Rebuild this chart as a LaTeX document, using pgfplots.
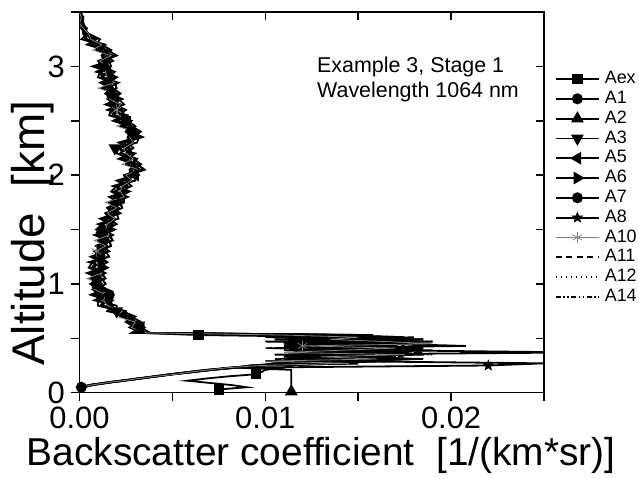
\documentclass[border=0pt]{standalone}
\usepackage{pgfplots}
\pgfplotsset{compat=1.18}
\usepackage{pgfplotstable}
\usepackage{fontspec}
\setmainfont{Liberation Sans}

\pgfdeclareplotmark{fstar}{%
 \pgfpathmoveto{\pgfpointpolar{90}{\pgfplotmarksize}}%
 \pgfpathlineto{\pgfpointpolar{126}{0.42\pgfplotmarksize}}%
 \pgfpathlineto{\pgfpointpolar{162}{\pgfplotmarksize}}%
 \pgfpathlineto{\pgfpointpolar{198}{0.42\pgfplotmarksize}}%
 \pgfpathlineto{\pgfpointpolar{234}{\pgfplotmarksize}}%
 \pgfpathlineto{\pgfpointpolar{270}{0.42\pgfplotmarksize}}%
 \pgfpathlineto{\pgfpointpolar{306}{\pgfplotmarksize}}%
 \pgfpathlineto{\pgfpointpolar{342}{0.42\pgfplotmarksize}}%
 \pgfpathlineto{\pgfpointpolar{18}{\pgfplotmarksize}}%
 \pgfpathlineto{\pgfpointpolar{54}{0.42\pgfplotmarksize}}%
 \pgfpathclose\pgfusepathqfillstroke}

\pgfplotstableread{
alt Aex A1 A2 A3 A5 A6 A7 A8 A10 A11 A12 A14
3.50 0 0 0 0.0001 0 0 0.0001 0 0 0 0 0.0001
3.45 0.0001 0.0002 0 0.0001 0.0002 0.0001 0 0.0002 0.0001 0.0002 0.0001 0
3.40 0.0002 0.0001 0.0002 0 0.0001 0.0002 0.0001 0.0002 0 0.0001 0.0002 0.0001
3.35 0.0003 0.0002 0.0001 0.0002 0.0004 0.0002 0.0001 0.0003 0.0002 0.0002 0.0003 0.0001
3.30 0.0004 0.0002 0.0003 0.0005 0.0003 0.0002 0.0004 0.0003 0.0005 0.0002 0.0003 0.0004
3.25 0.0006 0.0009 0.0004 0.0011 0.0003 0.0008 0.0001 0.0009 0.0006 0.0004 0.0008 0.0003
3.20 0.0011 0.0006 0.0012 0.0009 0.0014 0.0007 0.0011 0.0004 0.0012 0.0009 0.0006 0.0011
3.15 0.0010 0.0014 0.0017 0.0009 0.0012 0.0015 0.0010 0.0014 0.0007 0.0015 0.0012 0.0017
3.10 0.0018 0.0015 0.0012 0.0017 0.0013 0.0020 0.0015 0.0012 0.0017 0.0020 0.0013 0.0015
3.05 0.0010 0.0018 0.0013 0.0011 0.0016 0.0013 0.0016 0.0015 0.0011 0.0010 0.0018 0.0011
3.00 0.0012 0.0010 0.0014 0.0015 0.0007 0.0009 0.0017 0.0012 0.0015 0.0014 0.0010 0.0015
2.95 0.0019 0.0016 0.0012 0.0009 0.0016 0.0014 0.0011 0.0017 0.0014 0.0012 0.0017 0.0011
2.90 0.0015 0.0018 0.0013 0.0020 0.0012 0.0017 0.0010 0.0018 0.0015 0.0013 0.0017 0.0012
2.85 0.0018 0.0013 0.0019 0.0016 0.0021 0.0014 0.0018 0.0011 0.0019 0.0016 0.0013 0.0018
2.80 0.0013 0.0017 0.0020 0.0012 0.0015 0.0018 0.0013 0.0017 0.0010 0.0018 0.0015 0.0020
2.75 0.0020 0.0017 0.0014 0.0019 0.0015 0.0022 0.0017 0.0014 0.0019 0.0022 0.0015 0.0017
2.70 0.0015 0.0023 0.0018 0.0016 0.0021 0.0018 0.0021 0.0020 0.0016 0.0015 0.0023 0.0016
2.65 0.0019 0.0017 0.0021 0.0022 0.0014 0.0016 0.0024 0.0019 0.0022 0.0021 0.0017 0.0022
2.60 0.0025 0.0022 0.0018 0.0015 0.0022 0.0020 0.0017 0.0023 0.0020 0.0018 0.0023 0.0017
2.55 0.0021 0.0024 0.0019 0.0026 0.0018 0.0023 0.0016 0.0024 0.0021 0.0019 0.0023 0.0018
2.50 0.0025 0.0020 0.0026 0.0023 0.0028 0.0021 0.0025 0.0018 0.0026 0.0023 0.0020 0.0025
2.45 0.0023 0.0027 0.0030 0.0022 0.0025 0.0028 0.0023 0.0027 0.0020 0.0028 0.0025 0.0030
2.40 0.0031 0.0028 0.0025 0.0030 0.0026 0.0033 0.0028 0.0025 0.0030 0.0033 0.0026 0.0028
2.35 0.0026 0.0034 0.0029 0.0027 0.0032 0.0029 0.0032 0.0031 0.0027 0.0026 0.0034 0.0027
2.30 0.0026 0.0024 0.0028 0.0029 0.0021 0.0023 0.0031 0.0026 0.0029 0.0028 0.0024 0.0029
2.25 0.0029 0.0026 0.0022 0.0019 0.0026 0.0024 0.0021 0.0027 0.0024 0.0022 0.0027 0.0021
2.20 0.0025 0.0028 0.0023 0.0030 0.0022 0.0027 0.0020 0.0028 0.0025 0.0023 0.0027 0.0022
2.15 0.0028 0.0023 0.0029 0.0026 0.0031 0.0024 0.0028 0.0021 0.0029 0.0026 0.0023 0.0028
2.10 0.0026 0.0030 0.0033 0.0025 0.0028 0.0031 0.0026 0.0030 0.0023 0.0031 0.0028 0.0033
2.05 0.0033 0.0030 0.0027 0.0032 0.0028 0.0035 0.0030 0.0027 0.0032 0.0035 0.0028 0.0030
2.00 0.0024 0.0032 0.0027 0.0025 0.0030 0.0027 0.0030 0.0029 0.0025 0.0024 0.0032 0.0025
1.95 0.0025 0.0023 0.0027 0.0028 0.0020 0.0022 0.0030 0.0025 0.0028 0.0027 0.0023 0.0028
1.90 0.0028 0.0025 0.0021 0.0018 0.0025 0.0023 0.0020 0.0026 0.0023 0.0021 0.0026 0.0020
1.85 0.0022 0.0025 0.0020 0.0027 0.0019 0.0024 0.0017 0.0025 0.0022 0.0020 0.0024 0.0019
1.80 0.0023 0.0018 0.0024 0.0021 0.0026 0.0019 0.0023 0.0016 0.0024 0.0021 0.0018 0.0023
1.75 0.0017 0.0021 0.0024 0.0016 0.0019 0.0022 0.0017 0.0021 0.0014 0.0022 0.0019 0.0024
1.70 0.0021 0.0018 0.0015 0.0020 0.0016 0.0023 0.0018 0.0015 0.0020 0.0023 0.0016 0.0018
1.65 0.0014 0.0022 0.0017 0.0015 0.0020 0.0017 0.0020 0.0019 0.0015 0.0014 0.0022 0.0015
1.60 0.0016 0.0014 0.0018 0.0019 0.0011 0.0013 0.0021 0.0016 0.0019 0.0018 0.0014 0.0019
1.55 0.0020 0.0017 0.0013 0.0010 0.0017 0.0015 0.0012 0.0018 0.0015 0.0013 0.0018 0.0012
1.50 0.0014 0.0017 0.0012 0.0019 0.0011 0.0016 0.0009 0.0017 0.0014 0.0012 0.0016 0.0011
1.45 0.0015 0.0010 0.0016 0.0013 0.0018 0.0011 0.0015 0.0008 0.0016 0.0013 0.0010 0.0015
1.40 0.0011 0.0015 0.0018 0.0010 0.0013 0.0016 0.0011 0.0015 0.0008 0.0016 0.0013 0.0018
1.35 0.0015 0.0012 0.0009 0.0014 0.0010 0.0017 0.0012 0.0009 0.0014 0.0017 0.0010 0.0012
1.30 0.0008 0.0016 0.0011 0.0009 0.0014 0.0011 0.0014 0.0013 0.0009 0.0008 0.0016 0.0009
1.25 0.0011 0.0009 0.0013 0.0014 0.0006 0.0008 0.0016 0.0011 0.0014 0.0013 0.0009 0.0014
1.20 0.0015 0.0012 0.0008 0.0005 0.0012 0.0010 0.0007 0.0013 0.0010 0.0008 0.0013 0.0007
1.15 0.0010 0.0013 0.0008 0.0015 0.0007 0.0012 0.0005 0.0013 0.0010 0.0008 0.0012 0.0007
1.10 0.0011 0.0006 0.0012 0.0009 0.0014 0.0007 0.0011 0.0004 0.0012 0.0009 0.0006 0.0011
1.05 0.0007 0.0011 0.0014 0.0006 0.0009 0.0012 0.0007 0.0011 0.0004 0.0012 0.0009 0.0014
1.00 0.0012 0.0009 0.0006 0.0011 0.0007 0.0014 0.0009 0.0006 0.0011 0.0014 0.0007 0.0009
0.95 0.0007 0.0015 0.0010 0.0008 0.0013 0.0010 0.0013 0.0012 0.0008 0.0007 0.0015 0.0008
0.90 0.0011 0.0009 0.0013 0.0014 0.0006 0.0008 0.0016 0.0011 0.0014 0.0013 0.0009 0.0014
0.85 0.0018 0.0015 0.0011 0.0008 0.0015 0.0013 0.0010 0.0016 0.0013 0.0011 0.0016 0.0010
0.80 0.0015 0.0018 0.0013 0.0020 0.0012 0.0017 0.0010 0.0018 0.0015 0.0013 0.0017 0.0012
0.75 0.0022 0.0017 0.0023 0.0020 0.0025 0.0018 0.0022 0.0015 0.0023 0.0020 0.0017 0.0022
0.70 0.0023 0.0027 0.0030 0.0022 0.0025 0.0028 0.0023 0.0027 0.0020 0.0028 0.0025 0.0030
0.65 0.0031 0.0028 0.0025 0.0030 0.0026 0.0033 0.0028 0.0025 0.0030 0.0033 0.0026 0.0028
0.60 0.0027 0.0035 0.0030 0.0028 0.0033 0.0030 0.0033 0.0032 0.0028 0.0027 0.0035 0.0028
0.55 0.0033 0.0031 0.0035 0.0036 0.0028 0.0030 0.0038 0.0033 0.0036 0.0035 0.0031 0.0036
0.53 0.0064 0.0150 0.0140 0.0155 0.0120 0.0145 0.0130 0.0158 0.0110 0.0135 0.0148 0.0125
0.51 0.0150 0.0110 0.0175 0.0120 0.0160 0.0100 0.0170 0.0125 0.0150 0.0180 0.0115 0.0165
0.49 0.0120 0.0185 0.0130 0.0165 0.0105 0.0175 0.0115 0.0185 0.0135 0.0110 0.0170 0.0140
0.47 0.0175 0.0125 0.0160 0.0100 0.0190 0.0120 0.0180 0.0140 0.0165 0.0150 0.0105 0.0190
0.45 0.0110 0.0165 0.0115 0.0180 0.0135 0.0170 0.0125 0.0110 0.0190 0.0125 0.0180 0.0120
0.43 0.0160 0.0208 0.0150 0.0125 0.0170 0.0110 0.0165 0.0155 0.0120 0.0175 0.0140 0.0160
0.41 0.0130 0.0120 0.0185 0.0160 0.0115 0.0180 0.0105 0.0130 0.0170 0.0100 0.0175 0.0115
0.39 0.0180 0.0160 0.0120 0.0110 0.0165 0.0140 0.0190 0.0175 0.0140 0.0165 0.0120 0.0180
0.37 0.0115 0.0130 0.0175 0.0150 0.0270 0.0115 0.0135 0.0120 0.0110 0.0185 0.0155 0.0130
0.35 0.0165 0.0180 0.0105 0.0185 0.0120 0.0175 0.0160 0.0165 0.0175 0.0120 0.0190 0.0150
0.33 0.0120 0.0115 0.0160 0.0125 0.0170 0.0130 0.0110 0.0150 0.0130 0.0160 0.0110 0.0175
0.31 0.0175 0.0150 0.0130 0.0170 0.0110 0.0185 0.0175 0.0180 0.0160 0.0105 0.0165 0.0120
0.29 0.0140 0.0100 0.0170 0.0115 0.0155 0.0120 0.0125 0.0140 0.0100 0.0150 0.0130 0.0165
0.27 0.0110 0.0135 0.0120 0.0150 0.0105 0.0150 0.0150 0.0250 0.0145 0.0120 0.0105 0.0110
0.25 0.0115 0.0098 0.0092 0.0096 0.0094 0.0099 0.0093 0.0220 0.0097 0.0092 0.0096 0.0094
0.23 0.0110 0.0084 0.0085 0.0080 0.0083 0.0081 0.0084 0.0085 0.0080 0.0083 0.0082 0.0081
0.21 0.0100 0.0071 0.0114 0.0069 0.0072 0.0070 0.0068 0.0071 0.0070 0.0072 0.0069 0.0070
0.19 0.0098 0.0061 0.0114 0.0059 0.0060 0.0062 0.0058 0.0061 0.0060 0.0059 0.0061 0.0060
0.17 0.0095 0.0051 0.0114 0.0049 0.0050 0.0051 0.0049 0.0050 0.0052 0.0050 0.0049 0.0051
0.15 0.0080 0.0041 0.0114 0.0040 0.0042 0.0041 0.0040 0.0042 0.0041 0.0040 0.0042 0.0041
0.13 0.0068 0.0032 0.0114 0.0031 0.0033 0.0032 0.0031 0.0033 0.0032 0.0031 0.0032 0.0033
0.11 0.0058 0.0023 0.0114 0.0022 0.0024 0.0023 0.0022 0.0024 0.0023 0.0022 0.0023 0.0024
0.09 0.0070 0.0014 0.0114 0.0013 0.0015 0.0014 0.0013 0.0015 0.0014 0.0013 0.0014 0.0015
0.07 0.0082 0.0006 0.0114 0.0005 0.0007 0.0006 0.0005 0.0007 0.0006 0.0005 0.0006 0.0007
0.05 0.0090 0.0001 0.0114 0.0001 0.0002 0.0001 0 0.0002 0.0001 0 0.0001 0.0002
0.03 0.0075 0 0.0114 0 0.0001 0 0 0.0001 0 0 0 0.0001
0.01 nan 0 0.0114 0 0 0 0 0 0 0 0 0
}\profiles

\pgfplotsset{
  sbase/.style={black, line width=1.8bp, solid},
  sAex/.style={sbase, mark=square*, mark size=4.2bp, mark options={solid, fill=black}},
  sA1/.style={sbase, mark=*, mark size=4.6bp, mark options={solid, fill=black}},
  sA2/.style={sbase, mark=triangle*, mark size=5.6bp, mark options={solid, fill=black}},
  sA3/.style={sbase, mark=triangle*, mark size=5.6bp, mark options={solid, fill=black, rotate=180}},
  sA5/.style={sbase, mark=triangle*, mark size=5.6bp, mark options={solid, fill=black, rotate=90}},
  sA6/.style={sbase, mark=triangle*, mark size=5.6bp, mark options={solid, fill=black, rotate=270}},
  sA7/.style={sbase, mark=*, mark size=4.6bp, mark options={solid, fill=black}},
  sA8/.style={sbase, mark=fstar, mark size=5.5bp, mark options={solid, fill=black, line width=0.5bp}},
  sA10/.style={gray, line width=0.8bp, solid, mark=asterisk, mark size=5.5bp, mark options={solid, gray, line width=0.7bp}},
  sA11/.style={black, line width=1.6bp, dash pattern=on 6bp off 4.5bp},
  sA12/.style={black, line width=1.6bp, dash pattern=on 1.5bp off 3.5bp},
  sA14/.style={black, line width=1.6bp, dash pattern=on 5bp off 2.5bp on 1.5bp off 2.5bp on 1.5bp off 2.5bp},
}

\begin{document}
\begin{tikzpicture}
\useasboundingbox (-79.5bp,-86.3bp) rectangle (559.5bp,392.7bp);
\begin{axis}[
  scale only axis, width=464.5bp, height=380.7bp,
  at={(0,0)}, anchor=south west,
  xmin=0, xmax=0.025, ymin=0, ymax=3.5,
  scaled x ticks=false, scaled y ticks=false,
  axis line style={line width=1.5bp, black},
  tick style={line width=1.5bp, black},
  tick align=outside, major tick length=8bp,
  xtick pos=left, ytick pos=left,
  xtick={0,0.005,0.01,0.015,0.02,0.025},
  xticklabels={0.00,,0.01,,0.02,},
  ytick={0,0.5,1,1.5,2,2.5,3,3.5},
  yticklabels={0,,1,,2,,3,},
  /pgf/number format/assume math mode=true,
  ticklabel style={font=\fontsize{31}{31}\selectfont},
  xticklabel style={anchor=north, inner sep=0pt, yshift=-6bp},
  yticklabel style={anchor=east, inner sep=0pt, xshift=-6.5bp},
  xlabel={Backscatter coefficient\ \ [1/(km*sr)]},
  xlabel style={font=\fontsize{39}{39}\selectfont, at={(rel axis cs:0.52,-0.19)}, anchor=base},
  ylabel={Altitude\ \ [km]},
  ylabel style={font=\fontsize{46}{46}\selectfont, at={(rel axis cs:-0.0743,0.419)}, anchor=base},
  legend style={draw=none, fill=none, at={(1,1)}, anchor=north west,
    xshift=11bp, yshift=-58.75bp, inner sep=0pt, outer sep=0pt, row sep=3.3bp,
    font=\fontsize{18}{18}\selectfont,
    nodes={inner sep=0pt, text height=13bp, text depth=3.5bp},
    /tikz/every odd column/.append style={column sep=5bp}},
  legend cell align=left,
  legend image code/.code={\draw[mark repeat=2,mark phase=2,#1] plot coordinates {(0bp,0bp) (21.5bp,0bp) (43bp,0bp)};},
]
\addplot[sAex, mark indices={21,46,61,79,86}, forget plot] table[x=Aex, y=alt] {\profiles};
\addplot[sA1, mark indices={16,51,85}, forget plot] table[x=A1, y=alt] {\profiles};
\addplot[sA2, mark indices={11,41,87}, forget plot] table[x=A2, y=alt] {\profiles};
\addplot[sA3, mark indices={26,56}, forget plot] table[x=A3, y=alt] {\profiles};
\addplot[sA5, mark indices={31,59}, forget plot] table[x=A5, y=alt] {\profiles};
\addplot[sA6, mark indices={13,48}, forget plot] table[x=A6, y=alt] {\profiles};
\addplot[sA7, mark indices={23,53}, forget plot] table[x=A7, y=alt] {\profiles};
\addplot[sA8, mark indices={36,75}, forget plot] table[x=A8, y=alt] {\profiles};
\addplot[sA11, forget plot] table[x=A11, y=alt] {\profiles};
\addplot[sA12, forget plot] table[x=A12, y=alt] {\profiles};
\addplot[sA14, forget plot] table[x=A14, y=alt] {\profiles};
\addplot[sA10, mark indices={19,45,66}, forget plot] table[x=A10, y=alt] {\profiles};
\addlegendimage{sAex}\addlegendentry{Aex}
\addlegendimage{sA1}\addlegendentry{A1}
\addlegendimage{sA2}\addlegendentry{A2}
\addlegendimage{sA3}\addlegendentry{A3}
\addlegendimage{sA5}\addlegendentry{A5}
\addlegendimage{sA6}\addlegendentry{A6}
\addlegendimage{sA7}\addlegendentry{A7}
\addlegendimage{sA8}\addlegendentry{A8}
\addlegendimage{sA10}\addlegendentry{A10}
\addlegendimage{sA11}\addlegendentry{A11}
\addlegendimage{sA12}\addlegendentry{A12}
\addlegendimage{sA14}\addlegendentry{A14}
\end{axis}
\begin{axis}[
  scale only axis, width=464.5bp, height=380.7bp,
  at={(0,0)}, anchor=south west,
  xmin=0, xmax=0.025, ymin=0, ymax=3.5,
  scaled x ticks=false, scaled y ticks=false,
  axis line style={line width=1.5bp, black},
  tick style={line width=1.5bp, black},
  tick align=inside, major tick length=8bp,
  xtick pos=right, ytick pos=right,
  xtick={0,0.005,0.01,0.015,0.02,0.025},
  ytick={0,0.5,1,1.5,2,2.5,3,3.5},
  xticklabels={}, yticklabels={},
]
\addplot[draw=none] coordinates {(0,0)};
\end{axis}
\node[anchor=base west, inner sep=0pt, font=\fontsize{21.5}{21.5}\selectfont] at (237.5bp,320.2bp) {Example 3, Stage 1};
\node[anchor=base west, inner sep=0pt, font=\fontsize{21.5}{21.5}\selectfont] at (237.5bp,295.2bp) {Wavelength 1064 nm};
\end{tikzpicture}
\end{document}
